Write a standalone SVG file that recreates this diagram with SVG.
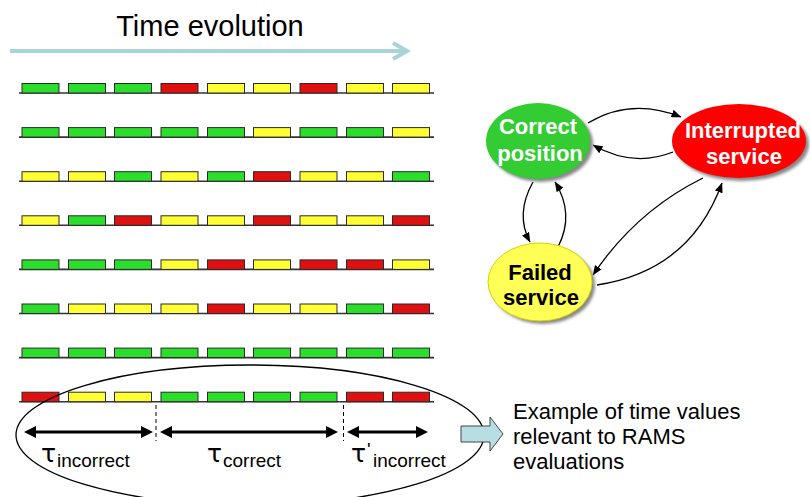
<svg xmlns="http://www.w3.org/2000/svg" width="810" height="497" viewBox="0 0 810 497">
<style>
.g{fill:#2BDE2B;stroke:#2a2a2a;stroke-width:1}
.r{fill:#E01010;stroke:#2a2a2a;stroke-width:1}
.y{fill:#FFFF33;stroke:#2a2a2a;stroke-width:1}
.base{stroke:#333;stroke-width:1.6}
.sans{font-family:"Liberation Sans",Arial,sans-serif}
.tau{font-family:"DejaVu Sans","Liberation Sans",sans-serif;font-size:25px}
.sub{font-family:"Liberation Sans",Arial,sans-serif;font-size:19px}
.nodet{font-family:"Liberation Sans",Arial,sans-serif;font-size:22px;font-weight:bold;text-anchor:middle}
.conn{fill:none;stroke:#000;stroke-width:1.3;marker-end:url(#ah)}
.dbl{stroke:#000;stroke-width:3}
</style>
<defs>
<marker id="ah" viewBox="0 0 10 8" refX="9.5" refY="4" markerWidth="10" markerHeight="8" orient="auto" markerUnits="userSpaceOnUse"><path d="M0,0 L10,4 L0,8 z" fill="#000"/></marker>
<filter id="sh" x="-20%" y="-20%" width="140%" height="140%"><feGaussianBlur stdDeviation="1.5"/></filter>
</defs>
<rect width="810" height="497" fill="#fff"/>

<g id="title">
<text class="sans" x="210" y="36" font-size="29" text-anchor="middle" fill="#000">Time evolution</text>
<line x1="10" y1="51" x2="406" y2="51" stroke="#A9D3DA" stroke-width="4"/>
<polyline points="393,43 407,51 393,59" fill="none" stroke="#A9D3DA" stroke-width="4"/>
</g>

<g id="row1" transform="translate(0,93)">
<line class="base" x1="19" y1="0" x2="434" y2="0"/>
<rect class="g" x="22" y="-9.5" width="37" height="9.5"/><rect class="g" x="68.5" y="-9.5" width="37" height="9.5"/><rect class="g" x="114.5" y="-9.5" width="37" height="9.5"/><rect class="r" x="161" y="-9.5" width="37" height="9.5"/><rect class="y" x="207.5" y="-9.5" width="37" height="9.5"/><rect class="y" x="253.5" y="-9.5" width="37" height="9.5"/><rect class="r" x="300" y="-9.5" width="37" height="9.5"/><rect class="y" x="346.5" y="-9.5" width="37" height="9.5"/><rect class="y" x="392.5" y="-9.5" width="37" height="9.5"/>
</g>
<g id="row2" transform="translate(0,137.1)">
<line class="base" x1="19" y1="0" x2="434" y2="0"/>
<rect class="g" x="22" y="-9.5" width="37" height="9.5"/><rect class="g" x="68.5" y="-9.5" width="37" height="9.5"/><rect class="g" x="114.5" y="-9.5" width="37" height="9.5"/><rect class="g" x="161" y="-9.5" width="37" height="9.5"/><rect class="g" x="207.5" y="-9.5" width="37" height="9.5"/><rect class="y" x="253.5" y="-9.5" width="37" height="9.5"/><rect class="g" x="300" y="-9.5" width="37" height="9.5"/><rect class="g" x="346.5" y="-9.5" width="37" height="9.5"/><rect class="y" x="392.5" y="-9.5" width="37" height="9.5"/>
</g>
<g id="row3" transform="translate(0,181.2)">
<line class="base" x1="19" y1="0" x2="434" y2="0"/>
<rect class="y" x="22" y="-9.5" width="37" height="9.5"/><rect class="y" x="68.5" y="-9.5" width="37" height="9.5"/><rect class="g" x="114.5" y="-9.5" width="37" height="9.5"/><rect class="y" x="161" y="-9.5" width="37" height="9.5"/><rect class="g" x="207.5" y="-9.5" width="37" height="9.5"/><rect class="r" x="253.5" y="-9.5" width="37" height="9.5"/><rect class="y" x="300" y="-9.5" width="37" height="9.5"/><rect class="y" x="346.5" y="-9.5" width="37" height="9.5"/><rect class="g" x="392.5" y="-9.5" width="37" height="9.5"/>
</g>
<g id="row4" transform="translate(0,225.3)">
<line class="base" x1="19" y1="0" x2="434" y2="0"/>
<rect class="y" x="22" y="-9.5" width="37" height="9.5"/><rect class="g" x="68.5" y="-9.5" width="37" height="9.5"/><rect class="r" x="114.5" y="-9.5" width="37" height="9.5"/><rect class="y" x="161" y="-9.5" width="37" height="9.5"/><rect class="y" x="207.5" y="-9.5" width="37" height="9.5"/><rect class="r" x="253.5" y="-9.5" width="37" height="9.5"/><rect class="y" x="300" y="-9.5" width="37" height="9.5"/><rect class="y" x="346.5" y="-9.5" width="37" height="9.5"/><rect class="r" x="392.5" y="-9.5" width="37" height="9.5"/>
</g>
<g id="row5" transform="translate(0,269.4)">
<line class="base" x1="19" y1="0" x2="434" y2="0"/>
<rect class="g" x="22" y="-9.5" width="37" height="9.5"/><rect class="g" x="68.5" y="-9.5" width="37" height="9.5"/><rect class="g" x="114.5" y="-9.5" width="37" height="9.5"/><rect class="y" x="161" y="-9.5" width="37" height="9.5"/><rect class="r" x="207.5" y="-9.5" width="37" height="9.5"/><rect class="y" x="253.5" y="-9.5" width="37" height="9.5"/><rect class="r" x="300" y="-9.5" width="37" height="9.5"/><rect class="r" x="346.5" y="-9.5" width="37" height="9.5"/><rect class="y" x="392.5" y="-9.5" width="37" height="9.5"/>
</g>
<g id="row6" transform="translate(0,313.5)">
<line class="base" x1="19" y1="0" x2="434" y2="0"/>
<rect class="g" x="22" y="-9.5" width="37" height="9.5"/><rect class="y" x="68.5" y="-9.5" width="37" height="9.5"/><rect class="y" x="114.5" y="-9.5" width="37" height="9.5"/><rect class="y" x="161" y="-9.5" width="37" height="9.5"/><rect class="r" x="207.5" y="-9.5" width="37" height="9.5"/><rect class="y" x="253.5" y="-9.5" width="37" height="9.5"/><rect class="y" x="300" y="-9.5" width="37" height="9.5"/><rect class="g" x="346.5" y="-9.5" width="37" height="9.5"/><rect class="r" x="392.5" y="-9.5" width="37" height="9.5"/>
</g>
<g id="row7" transform="translate(0,357.6)">
<line class="base" x1="19" y1="0" x2="434" y2="0"/>
<rect class="g" x="22" y="-9.5" width="37" height="9.5"/><rect class="g" x="68.5" y="-9.5" width="37" height="9.5"/><rect class="g" x="114.5" y="-9.5" width="37" height="9.5"/><rect class="g" x="161" y="-9.5" width="37" height="9.5"/><rect class="g" x="207.5" y="-9.5" width="37" height="9.5"/><rect class="g" x="253.5" y="-9.5" width="37" height="9.5"/><rect class="g" x="300" y="-9.5" width="37" height="9.5"/><rect class="g" x="346.5" y="-9.5" width="37" height="9.5"/><rect class="g" x="392.5" y="-9.5" width="37" height="9.5"/>
</g>
<g id="row8" transform="translate(0,401.7)">
<line class="base" x1="19" y1="0" x2="434" y2="0"/>
<rect class="r" x="22" y="-9.5" width="37" height="9.5"/><rect class="y" x="68.5" y="-9.5" width="37" height="9.5"/><rect class="y" x="114.5" y="-9.5" width="37" height="9.5"/><rect class="g" x="161" y="-9.5" width="37" height="9.5"/><rect class="g" x="207.5" y="-9.5" width="37" height="9.5"/><rect class="g" x="253.5" y="-9.5" width="37" height="9.5"/><rect class="g" x="300" y="-9.5" width="37" height="9.5"/><rect class="r" x="346.5" y="-9.5" width="37" height="9.5"/><rect class="r" x="392.5" y="-9.5" width="37" height="9.5"/>
</g>

<g id="intervals">
<ellipse cx="250" cy="435" rx="234" ry="70" fill="none" stroke="#000" stroke-width="1.3"/>
<line x1="156" y1="405" x2="156" y2="441" stroke="#000" stroke-width="1" stroke-dasharray="4,3"/>
<line x1="343.5" y1="405" x2="343.5" y2="441" stroke="#000" stroke-width="1" stroke-dasharray="4,3"/>
<line class="dbl" x1="34" y1="432" x2="143" y2="432"/>
<polygon points="24,432 36,426 36,438"/><polygon points="153,432 141,426 141,438"/>
<line class="dbl" x1="170" y1="432" x2="328" y2="432"/>
<polygon points="160,432 172,426 172,438"/><polygon points="338,432 326,426 326,438"/>
<line class="dbl" x1="357" y1="432" x2="418" y2="432"/>
<polygon points="347,432 359,426 359,438"/><polygon points="428,432 416,426 416,438"/>
<text class="tau" x="41" y="462">τ</text><text class="sub" x="57" y="467">incorrect</text>
<text class="tau" x="207" y="462">τ</text><text class="sub" x="223" y="467">correct</text>
<text class="tau" x="351" y="462">τ</text><text class="sub" x="367" y="456">'</text><text class="sub" x="373" y="467">incorrect</text>
</g>

<g id="callout">
<polygon points="461,426 490,426 490,417 503,434 490,451 490,442 461,442" fill="#B7DEE3" stroke="#444" stroke-width="1"/>
<text class="sans" font-size="22" fill="#000"><tspan x="513" y="419">Example of time values</tspan><tspan x="513" y="444">relevant to RAMS</tspan><tspan x="513" y="469">evaluations</tspan></text>
</g>

<g id="connectors">
<path class="conn" d="M588,123 Q631,97 681,117"/>
<path class="conn" d="M673,152 Q633,168 593,145"/>
<path class="conn" d="M533,182 Q515,214 530,242"/>
<path class="conn" d="M558,247 Q575,214 555,182"/>
<path class="conn" d="M703,178 Q636,211 593,275"/>
<path class="conn" d="M597,285 Q690,271 722,183"/>
</g>

<g id="node-correct">
<ellipse cx="541" cy="144" rx="52" ry="38" fill="#888" filter="url(#sh)"/>
<ellipse cx="538" cy="141" rx="52" ry="38" fill="#33CC33"/>
<text class="nodet" x="538" y="134" fill="#fff">Correct</text>
<text class="nodet" x="540" y="161" fill="#fff">position</text>
</g>
<g id="node-interrupted">
<ellipse cx="742" cy="144" rx="67" ry="37" fill="#888" filter="url(#sh)"/>
<ellipse cx="739" cy="141" rx="67" ry="37" fill="#FF0000"/>
<text class="nodet" x="743" y="138" fill="#fff">Interrupted</text>
<text class="nodet" x="744" y="164" fill="#fff">service</text>
</g>
<g id="node-failed">
<ellipse cx="543" cy="285" rx="52" ry="39" fill="#888" filter="url(#sh)"/>
<ellipse cx="540" cy="282" rx="52" ry="39" fill="#FFFF55" stroke="#D4D400" stroke-width="1"/>
<text class="nodet" x="540" y="280" fill="#000">Failed</text>
<text class="nodet" x="541" y="305" fill="#000">service</text>
</g>
</svg>
